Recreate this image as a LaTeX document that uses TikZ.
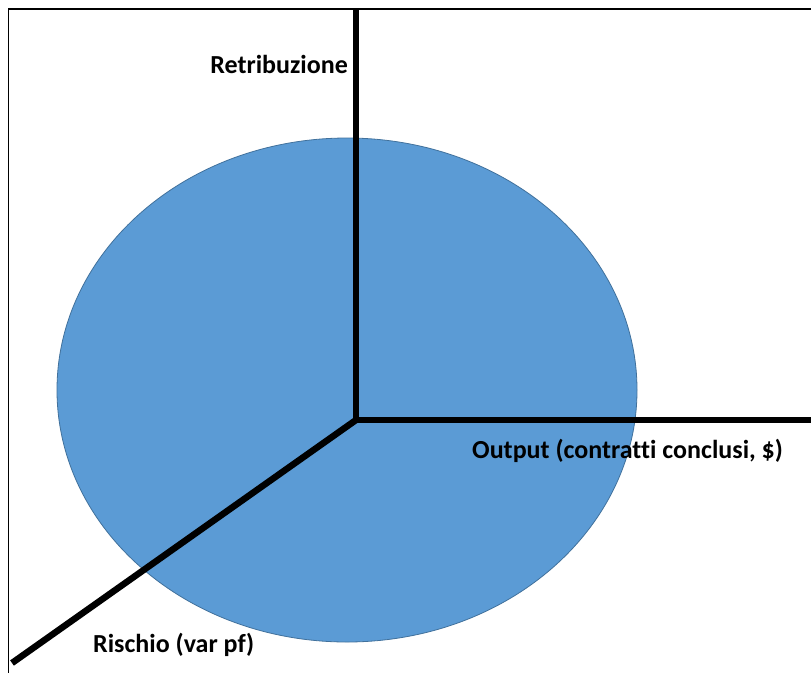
\documentclass[tikz,border=0pt]{standalone}
\usepackage{fontspec}
\setmainfont{Carlito}[Ligatures=NoCommon]
\usetikzlibrary{shapes.geometric}
\definecolor{ellfill}{HTML}{5B9BD5}
\definecolor{elldraw}{HTML}{41719C}
\begin{document}
\begin{tikzpicture}[x=1pt,y=-1pt,
  axis/.style={line width=6.5pt},
  frameline/.style={line width=1.6pt},
  lab/.style={font=\bfseries\fontsize{26}{31}\selectfont, inner sep=0pt}]
\useasboundingbox (0,0) rectangle (811,673);
\fill[white] (0,0) rectangle (811,673);
% frame
\coordinate (ftl) at (8.5,9);
\coordinate (ftr) at (811,9);
\coordinate (fbl) at (8.5,673);
\draw[frameline] (ftr) -- (ftl) -- (fbl);
% ellipse
\node (ell) [draw=elldraw, line width=0.8pt, fill=ellfill, ellipse, minimum width=580pt, minimum height=504pt, inner sep=0pt] at (347,390) {};
% axes
\coordinate (o) at (356,420);
\coordinate (top) at (356,10);
\coordinate (right) at (811,420);
\coordinate (ll) at (12,663);
\draw[axis] (top) -- (o) -- (right);
\draw[axis] (o) -- (ll);
% labels
\node (ret) [lab, anchor=base east] at (348,73) {Retribuzione};
\node (out) [lab, anchor=base west] at (472,458) {Output (contratti conclusi, \$)};
\node (ris) [lab, anchor=base west] at (93,652) {Rischio (var pf)};
\end{tikzpicture}
\end{document}
